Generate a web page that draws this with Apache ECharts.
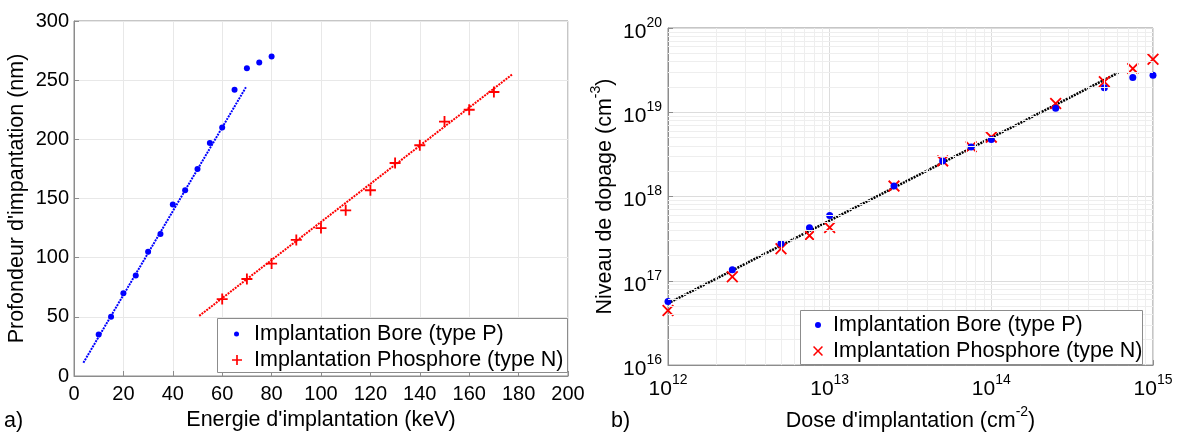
<!DOCTYPE html>
<html><head><meta charset="utf-8">
<script src="https://cdn.jsdelivr.net/npm/echarts@6/dist/echarts.min.js"></script>
<style>html,body{margin:0;padding:0;background:#fff}#c{width:1178px;height:437px}</style>
</head><body><div id="c"></div>
<script>
// ---- Left chart (a) data ----
const energyBore = [10, 15, 20, 25, 30, 35, 40, 45, 50, 55, 60, 65, 70, 75, 80];
const depthBore  = [35, 50, 70, 85, 105, 120, 145, 157, 175, 197, 210, 242, 260, 265, 270];
const energyPhos = [60, 70, 80, 90, 100, 110, 120, 130, 140, 150, 160, 170];
const depthPhos  = [65, 82, 95, 115, 125, 140, 157, 180, 195, 215, 225, 240];
const fitBoreEnds = [[3.8, 11.2], [69.6, 244]];
const fitPhosEnds = [[50.7, 50.8], [177.5, 255]];
// ---- Right chart (b) data ----
const doses   = [1e12, 2.5e12, 5e12, 7.5e12, 1e13, 2.5e13, 5e13, 7.5e13, 1e14, 2.5e14, 5e14, 7.5e14, 1e15];
const dopBore = [5.7e16, 1.35e17, 2.78e17, 4.25e17, 5.96e17, 1.33e18, 2.65e18, 3.86e18, 4.76e18, 1.12e19, 1.96e19, 2.58e19, 2.75e19];
const dopPhos = [4.45e16, 1.12e17, 2.4e17, 3.44e17, 4.3e17, 1.33e18, 2.65e18, 3.9e18, 5.07e18, 1.27e19, 2.3e19, 3.3e19, 4.25e19];
const fitDoseEnds = [[1e12, 5.4e16], [6.1e14, 2.95e19]];
// ---- labels ----
const nameBore = 'Implantation Bore (type P)';
const namePhos = 'Implantation Phosphore (type N)';
const xNameA = "Energie d'implantation (keV)";
const yNameA = "Profondeur d'impantation (nm)";
const xNameB = "Dose d'implantation (cm";
const yNameB = "Niveau de dopage (cm";

const FONT = "'Liberation Sans', Arial, sans-serif";
const zip = (a, b) => a.map((v, i) => [v, b[i]]);
const PLUS = 'path://M5,0 L7,0 L7,5 L12,5 L12,7 L7,7 L7,12 L5,12 L5,7 L0,7 L0,5 L5,5 Z';
const CROSS = 'path://M0,1.3 L1.3,0 L6,4.7 L10.7,0 L12,1.3 L7.3,6 L12,10.7 L10.7,12 L6,7.3 L1.3,12 L0,10.7 L4.7,6 Z';

// minor grid lines for log axes
const minorX = [], minorY = [];
for (let e = 12; e < 15; e++) for (let k = 2; k <= 9; k++) minorX.push({ xAxis: k * Math.pow(10, e) });
for (let e = 16; e < 20; e++) for (let k = 2; k <= 9; k++) minorY.push({ yAxis: k * Math.pow(10, e) });

const logFmt = v => '{b|10}{s|' + Math.round(Math.log10(v)) + '}';
const richLog = {
  b: { fontSize: 21, fontFamily: FONT, color: '#000', padding: [8, 0, 0, 0] },
  s: { fontSize: 14, fontFamily: FONT, color: '#000', padding: [0, 0, 10, 0] }
};
const richName = {
  n: { fontSize: 21.5, color: '#000', fontFamily: FONT, padding: [8, 0, 0, 0] },
  s: { fontSize: 14, color: '#000', fontFamily: FONT, padding: [0, 0, 10, 0] }
};
const legendText = pad => ({ fontSize: 21.5, color: '#000', fontFamily: FONT, padding: [0, 0, 0, pad] });

const chart = echarts.init(document.getElementById('c'), null, { renderer: 'canvas' });
chart.setOption({
  animation: false,
  backgroundColor: '#fff',
  textStyle: { fontFamily: FONT },
  grid: [
    { left: 74, top: 21, width: 494, height: 355, show: true, borderColor: '#8c8c8c', borderWidth: 1, backgroundColor: 'transparent' },
    { left: 668, top: 28, width: 485, height: 347, show: true, borderColor: '#8c8c8c', borderWidth: 1, backgroundColor: 'transparent' }
  ],
  xAxis: [
    { gridIndex: 0, type: 'value', min: 0, max: 200, interval: 20,
      name: xNameA, nameLocation: 'middle', nameGap: 25,
      nameTextStyle: { fontSize: 21.5, color: '#000', fontFamily: FONT },
      axisLine: { show: true, lineStyle: { color: '#8c8c8c' } },
      axisTick: { inside: true, length: 5, lineStyle: { color: '#8c8c8c' } },
      axisLabel: { fontSize: 20, color: '#000', margin: 8 },
      splitLine: { show: true, lineStyle: { color: '#e8e8e8', width: 1 } } },
    { gridIndex: 1, type: 'log', min: 1e12, max: 1e15, logBase: 10,
      name: '{n|' + xNameB + '}{s|-2}{n|)}', nameLocation: 'middle', nameGap: 33,
      nameTextStyle: { rich: richName },
      axisLine: { show: true, lineStyle: { color: '#8c8c8c' } },
      axisTick: { inside: true, length: 5, lineStyle: { color: '#8c8c8c' } },
      axisLabel: { formatter: logFmt, rich: richLog, margin: 6 },
      splitLine: { show: true, lineStyle: { color: '#dcdcdc', width: 1 } } }
  ],
  yAxis: [
    { gridIndex: 0, type: 'value', min: 0, max: 300, interval: 50,
      name: yNameA, nameLocation: 'middle', nameGap: 46, nameRotate: 90,
      nameTextStyle: { fontSize: 21.5, color: '#000', fontFamily: FONT },
      axisLine: { show: true, lineStyle: { color: '#8c8c8c' } },
      axisTick: { inside: true, length: 5, lineStyle: { color: '#8c8c8c' } },
      axisLabel: { fontSize: 20, color: '#000', margin: 5 },
      splitLine: { show: true, lineStyle: { color: '#e8e8e8', width: 1 } } },
    { gridIndex: 1, type: 'log', min: 1e16, max: 1e20, logBase: 10,
      name: '{n|' + yNameB + '}{s|-3}{n|)}', nameLocation: 'middle', nameGap: 52, nameRotate: 90,
      nameTextStyle: { rich: richName },
      axisLine: { show: true, lineStyle: { color: '#8c8c8c' } },
      axisTick: { inside: true, length: 5, lineStyle: { color: '#8c8c8c' } },
      axisLabel: { formatter: logFmt, rich: richLog, margin: 6 },
      splitLine: { show: true, lineStyle: { color: '#dcdcdc', width: 1 } } }
  ],
  legend: [
    { z: 200, left: 234, top: 323, orient: 'vertical', data: [{ name: nameBore, icon: 'circle' }],
      itemWidth: 5, itemHeight: 5, itemGap: 0, padding: 0, selectedMode: false, textStyle: legendText(10) },
    { z: 200, left: 232, top: 349, orient: 'vertical', data: [{ name: namePhos, icon: PLUS }],
      itemWidth: 10, itemHeight: 10, itemGap: 0, padding: 0, selectedMode: false, textStyle: legendText(7) },
    { z: 200, left: 815, top: 314, orient: 'vertical', data: [{ name: nameBore, icon: 'circle' }],
      itemWidth: 6, itemHeight: 6, itemGap: 0, padding: 0, selectedMode: false, textStyle: legendText(7) },
    { z: 200, left: 813, top: 340, orient: 'vertical', data: [{ name: namePhos, icon: CROSS }],
      itemWidth: 10, itemHeight: 10, itemGap: 0, padding: 0, selectedMode: false, textStyle: legendText(5) }
  ],
  graphic: {
    z: 100,
    elements: [
      { type: 'rect', z: 100, shape: { x: 217.5, y: 318.5, width: 350, height: 54 }, style: { fill: '#fff', stroke: '#8c8c8c', lineWidth: 1 } },
      { type: 'rect', z: 100, shape: { x: 800.5, y: 310.5, width: 342, height: 54 }, style: { fill: '#fff', stroke: '#8c8c8c', lineWidth: 1 } },
      { type: 'text', left: 4, top: 410, style: { text: 'a)', fontSize: 21.5, fontFamily: FONT, fill: '#000' } },
      { type: 'text', left: 611, top: 410, style: { text: 'b)', fontSize: 21.5, fontFamily: FONT, fill: '#000' } }
    ]
  },
  series: [
    { name: 'fitBore', type: 'line', xAxisIndex: 0, yAxisIndex: 0, data: fitBoreEnds, symbol: 'none', silent: true,
      lineStyle: { color: '#0000ff', width: 2, type: [2, 1] }, z: 2 },
    { name: 'fitPhos', type: 'line', xAxisIndex: 0, yAxisIndex: 0, data: fitPhosEnds, symbol: 'none', silent: true,
      lineStyle: { color: '#ff0000', width: 2, type: [2, 1] }, z: 2 },
    { name: nameBore, type: 'scatter', xAxisIndex: 0, yAxisIndex: 0, data: zip(energyBore, depthBore),
      symbol: 'circle', symbolSize: 6, itemStyle: { color: '#0000ff', opacity: 1 }, z: 4 },
    { name: namePhos, type: 'scatter', xAxisIndex: 0, yAxisIndex: 0, data: zip(energyPhos, depthPhos),
      symbol: PLUS, symbolSize: 11, itemStyle: { color: '#ff0000', opacity: 1 }, z: 3 },
    { name: 'minorGrid', type: 'line', xAxisIndex: 1, yAxisIndex: 1, data: [], silent: true, z: 0,
      markLine: { silent: true, symbol: ['none', 'none'], label: { show: false }, animation: false,
        lineStyle: { color: '#eeeeee', type: 'solid', width: 1 }, data: minorX.concat(minorY) } },
    { name: 'fitDose', type: 'line', xAxisIndex: 1, yAxisIndex: 1, data: fitDoseEnds, symbol: 'none', silent: true,
      lineStyle: { color: '#000', width: 2.5, type: [2, 1] }, z: 2 },
    { name: namePhos, type: 'scatter', xAxisIndex: 1, yAxisIndex: 1, data: zip(doses, dopPhos),
      symbol: CROSS, symbolSize: 12, itemStyle: { color: '#ff0000', opacity: 1 }, z: 3 },
    { name: nameBore, type: 'scatter', xAxisIndex: 1, yAxisIndex: 1, data: zip(doses, dopBore),
      symbol: 'circle', symbolSize: 7, itemStyle: { color: '#0000ff', opacity: 1 }, z: 4 }
  ]
});
</script>
</body></html>
